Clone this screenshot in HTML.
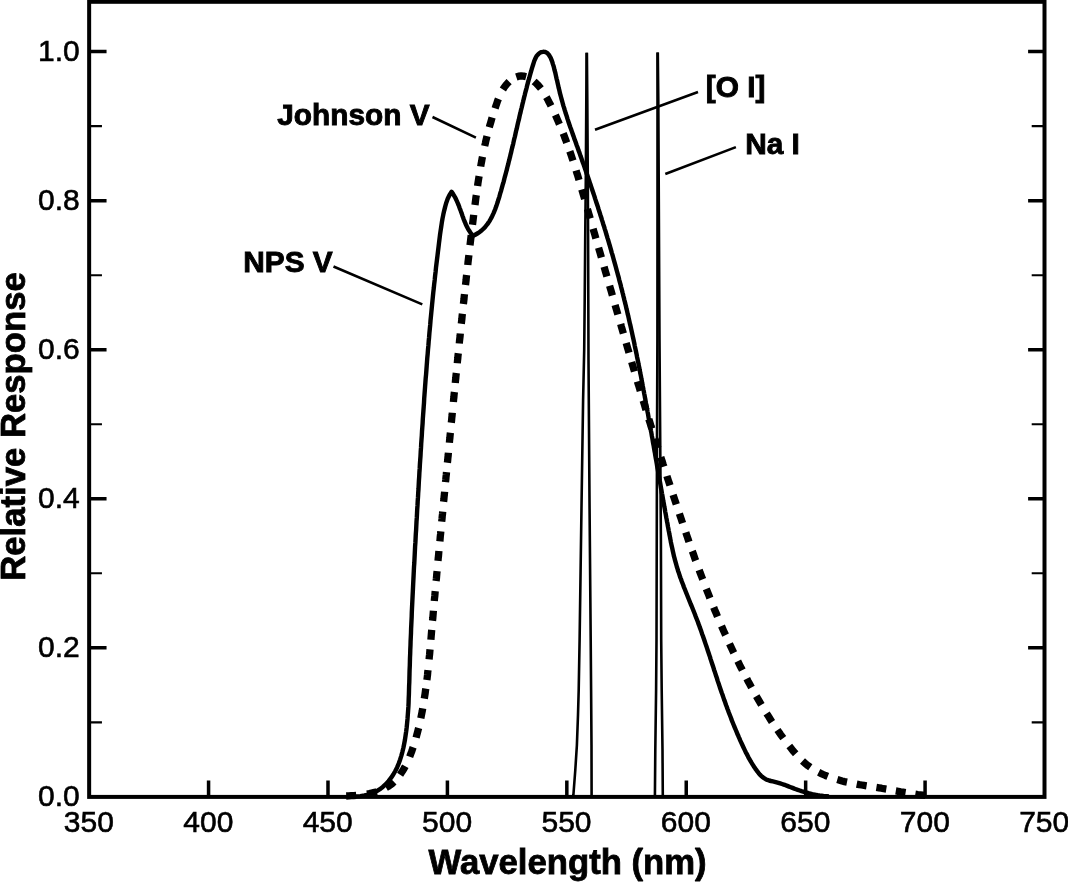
<!DOCTYPE html>
<html lang="en">
<head>
<meta charset="utf-8">
<title>Relative Response vs Wavelength</title>
<style>
html,body{margin:0;padding:0;background:#fff;}
body{width:1068px;height:882px;overflow:hidden;}
svg{display:block;}
</style>
</head>
<body>
<svg width="1068" height="882" viewBox="0 0 1068 882">
<rect width="1068" height="882" fill="#fff"/>
<g fill="none" stroke="#000" stroke-linejoin="round">
<path d="M346.2 796.0L348.7 795.9L351.2 795.7L353.7 795.6L356.2 795.4M366.9 794.0L369.4 793.6L371.8 793.0L374.3 792.4L376.7 791.7M386.0 787.7L388.2 786.4L390.2 785.0L392.2 783.5L394.0 781.8M400.1 774.7L401.5 772.6L402.9 770.5L404.1 768.4L405.3 766.2M409.7 756.7L410.6 754.3L411.5 752.0L412.3 749.6L413.1 747.3M416.1 737.7L416.7 735.3L417.4 732.8L418.0 730.4L418.6 728.0M420.8 718.2L421.3 715.7L421.8 713.3L422.3 710.8L422.7 708.4M424.3 698.6L424.7 696.1L425.1 693.7L425.4 691.2L425.8 688.7M426.9 680.0L427.2 677.6L427.5 675.1L427.7 672.6L428.0 670.1M429.1 659.4L429.3 656.9L429.6 654.4L429.8 651.9L430.0 649.4M430.9 639.8L431.1 637.3L431.3 634.8L431.5 632.4L431.7 629.9M432.5 620.8L432.8 618.3L433.0 615.8L433.2 613.3L433.4 610.8M434.3 601.0L434.5 598.5L434.8 596.1L435.0 593.6L435.2 591.1M436.1 581.0L436.4 578.6L436.6 576.1L436.8 573.6L437.1 571.1M438.0 560.9L438.2 558.5L438.5 556.0L438.7 553.5L438.9 551.0M439.9 541.4L440.1 538.9L440.3 536.4L440.6 533.9L440.8 531.4M441.7 521.6L442.0 519.1L442.2 516.6L442.5 514.1L442.7 511.6M443.6 501.7L443.9 499.2L444.1 496.7L444.4 494.2L444.6 491.7M445.5 482.1L445.8 479.6L446.0 477.1L446.3 474.6L446.5 472.1M447.4 462.7L447.7 460.2L447.9 457.7L448.2 455.2L448.4 452.7M449.4 442.7L449.6 440.2L449.9 437.7L450.1 435.2L450.4 432.7M451.3 422.8L451.6 420.3L451.8 417.8L452.1 415.3L452.3 412.8M453.4 402.0L453.6 399.5L453.9 397.0L454.1 394.5L454.4 392.0M455.3 383.0L455.5 380.5L455.8 378.0L456.0 375.5L456.3 373.0M457.3 363.2L457.5 360.7L457.8 358.2L458.0 355.7L458.3 353.2M459.3 343.5L459.5 341.0L459.8 338.5L460.1 336.0L460.3 333.5M461.3 323.8L461.6 321.3L461.9 318.8L462.1 316.3L462.4 313.8M463.4 304.0L463.7 301.5L464.0 299.0L464.2 296.5L464.5 294.1M465.5 285.0L465.8 282.5L466.1 280.0L466.3 277.5L466.6 275.0M467.8 265.0L468.0 262.5L468.3 260.0L468.6 257.5L468.9 255.1M470.0 245.3L470.3 242.8L470.6 240.3L470.9 237.8L471.2 235.3M472.5 224.8L472.8 222.3L473.1 219.9L473.4 217.4L473.7 214.9M475.0 205.0L475.3 202.5L475.6 200.1L475.9 197.6L476.3 195.1M477.6 186.0L477.9 183.5L478.3 181.0L478.7 178.5L479.1 176.1M480.7 166.5L481.1 164.0L481.6 161.6L482.0 159.1L482.5 156.7M484.7 146.0L485.3 143.5L485.8 141.1L486.4 138.7L487.0 136.2M489.3 127.2L490.0 124.8L490.7 122.4L491.4 120.0L492.1 117.6M495.1 108.3L495.9 105.9L496.7 103.6L497.5 101.2L498.4 98.9M502.9 89.5L504.2 87.4L505.7 85.4L507.3 83.5L509.1 81.7M516.3 77.0L518.7 76.2L521.2 75.9L523.7 76.1L526.1 76.7M534.1 81.4L535.9 83.0L537.7 84.8L539.4 86.7L540.9 88.6M546.4 97.1L547.6 99.2L548.7 101.5L549.9 103.7L551.0 105.9M555.4 115.1L556.4 117.3L557.4 119.6L558.4 121.9L559.4 124.2M563.2 133.4L564.1 135.7L565.0 138.1L565.9 140.4L566.7 142.7M569.8 151.2L570.6 153.5L571.4 155.9L572.2 158.3L573.0 160.6M576.1 170.4L576.8 172.8L577.6 175.2L578.3 177.5L579.0 179.9M581.8 189.4L582.5 191.8L583.2 194.2L583.9 196.6L584.6 199.0M587.4 208.9L588.1 211.3L588.8 213.7L589.5 216.1L590.2 218.5M593.1 228.8L593.8 231.2L594.5 233.6L595.2 236.0L595.9 238.4M598.6 247.8L599.3 250.2L600.0 252.6L600.7 255.0L601.4 257.4M604.1 266.8L604.8 269.2L605.5 271.7L606.2 274.1L606.9 276.5M609.6 285.8L610.3 288.2L611.0 290.6L611.7 293.0L612.4 295.4M615.1 305.0L615.8 307.4L616.5 309.8L617.2 312.2L617.9 314.6M620.7 324.0L621.3 326.4L622.0 328.8L622.7 331.2L623.4 333.6M626.2 343.1L626.9 345.5L627.6 347.9L628.3 350.3L629.0 352.7M631.7 362.0L632.4 364.4L633.1 366.8L633.8 369.2L634.5 371.6M637.4 381.4L638.1 383.8L638.9 386.2L639.6 388.6L640.3 391.0M643.1 400.5L643.9 402.9L644.6 405.3L645.3 407.7L646.0 410.0M648.8 419.1L649.6 421.5L650.3 423.8L651.0 426.2L651.8 428.6M654.9 438.6L655.7 440.9L656.4 443.3L657.2 445.7L657.9 448.1M660.8 457.2L661.6 459.6L662.4 462.0L663.1 464.3L663.9 466.7M666.9 475.9L667.6 478.3L668.4 480.6L669.2 483.0L670.0 485.4M673.1 494.9L673.9 497.2L674.7 499.6L675.5 502.0L676.3 504.4M679.4 513.7L680.2 516.1L681.0 518.4L681.8 520.8L682.6 523.2M685.8 532.4L686.6 534.8L687.4 537.1L688.2 539.5L689.0 541.9M692.3 551.2L693.2 553.5L694.0 555.9L694.8 558.2L695.7 560.6M699.2 570.0L700.0 572.4L700.9 574.7L701.8 577.0L702.7 579.4M706.3 588.8L707.2 591.1L708.1 593.4L709.0 595.7L709.9 598.1M713.7 607.4L714.6 609.7L715.6 612.0L716.6 614.3L717.5 616.6M721.5 626.0L722.5 628.3L723.5 630.6L724.5 632.8L725.6 635.1M729.5 643.8L730.6 646.1L731.6 648.3L732.7 650.6L733.8 652.8M737.8 661.2L738.9 663.4L740.0 665.7L741.2 667.9L742.3 670.1M746.8 678.7L747.9 680.9L749.1 683.1L750.3 685.3L751.5 687.5M756.3 696.1L757.6 698.3L758.8 700.4L760.1 702.6L761.4 704.8M766.6 713.4L768.0 715.5L769.3 717.7L770.6 719.8L772.0 721.9M777.5 730.0L778.9 732.0L780.3 734.1L781.8 736.1L783.3 738.1M789.3 746.0L790.9 748.0L792.4 749.9L794.0 751.9L795.7 753.8M802.5 761.0L804.3 762.7L806.3 764.3L808.2 765.8L810.3 767.3M818.7 772.3L820.9 773.4L823.2 774.5L825.5 775.5L827.8 776.4M837.3 779.6L839.7 780.3L842.1 781.0L844.5 781.6L847.0 782.1M856.7 784.1L859.2 784.6L861.6 785.0L864.1 785.4L866.6 785.8M876.4 787.4L878.9 787.8L881.4 788.2L883.8 788.7L886.3 789.1M895.8 790.9L898.2 791.3L900.7 791.8L903.1 792.2L905.6 792.6M915.3 794.2L917.8 794.6L920.3 794.9L922.8 795.2L925.3 795.5" stroke-width="7.3"/>
<path d="M352.0 796.6L356.1 796.4L360.3 796.1L364.4 795.5L368.5 794.6L372.3 793.3L376.0 791.6L379.5 789.4L382.8 786.9L385.8 784.1L388.5 781.1L391.0 777.9L393.3 774.5L395.3 771.0L397.1 767.4L398.7 763.6L400.1 759.7L401.3 755.8L402.4 751.8L403.4 747.7L404.2 743.7L405.0 739.5L405.6 735.4L406.2 731.3L406.7 727.2L407.1 723.1L407.5 719.0L407.8 714.9L408.1 710.8L408.4 706.7L408.6 702.6L408.7 698.5L408.9 694.4L409.0 690.3L409.1 686.2L409.3 682.1L409.4 678.0L409.5 673.9L409.6 669.8L409.8 665.7L409.9 661.6L410.0 657.5L410.2 653.4L410.3 649.3L410.5 645.2L410.6 641.1L410.8 637.0L411.0 632.8L411.1 628.7L411.3 624.6L411.5 620.5L411.7 616.4L411.8 612.3L412.0 608.2L412.2 604.1L412.4 600.0L412.6 595.9L412.8 591.8L413.0 587.6L413.2 583.5L413.4 579.4L413.6 575.3L413.8 571.2L414.0 567.1L414.3 563.0L414.5 558.9L414.7 554.8L414.9 550.6L415.1 546.5L415.4 542.4L415.6 538.3L415.8 534.2L416.1 530.1L416.3 526.0L416.5 521.9L416.8 517.7L417.0 513.6L417.2 509.5L417.5 505.4L417.7 501.3L418.0 497.2L418.2 493.1L418.5 489.0L418.7 484.9L418.9 480.8L419.2 476.6L419.4 472.5L419.7 468.4L419.9 464.3L420.2 460.2L420.5 456.1L420.7 452.0L421.0 447.9L421.2 443.8L421.5 439.7L421.8 435.6L422.0 431.5L422.3 427.4L422.6 423.3L422.8 419.2L423.1 415.1L423.4 411.0L423.7 406.9L424.0 402.8L424.2 398.7L424.5 394.6L424.8 390.5L425.1 386.4L425.4 382.3L425.7 378.2L426.1 374.1L426.4 370.0L426.7 365.9L427.0 361.8L427.3 357.7L427.7 353.6L428.0 349.5L428.4 345.4L428.7 341.3L429.1 337.2L429.4 333.1L429.8 329.0L430.2 324.9L430.5 320.8L430.9 316.7L431.3 312.6L431.7 308.5L432.1 304.4L432.5 300.4L432.9 296.3L433.3 292.2L433.8 288.1L434.2 284.0L434.7 279.9L435.1 275.8L435.6 271.7L436.0 267.6L436.5 263.5L437.0 259.4L437.5 255.4L438.0 251.3L438.5 247.2L439.0 243.1L439.5 239.0L440.0 234.9L440.6 230.8L441.2 226.8L441.8 222.7L442.5 218.6L443.3 214.6L444.2 210.6L445.2 206.6L446.3 202.7L447.7 198.8L449.4 195.2L451.6 191.8L452.3 192.8L453.0 193.8L453.6 194.8L454.2 195.8L454.8 196.9L455.4 197.9L455.9 199.0L456.4 200.1L456.9 201.2L457.4 202.3L457.9 203.4L458.3 204.5L458.8 205.6L459.2 206.7L459.6 207.9L460.0 209.0L460.5 210.1L460.9 211.3L461.3 212.4L461.7 213.6L462.1 214.7L462.5 215.9L462.9 217.0L463.3 218.1L463.7 219.3L464.2 220.4L464.6 221.5L465.1 222.6L465.5 223.7L466.0 224.8L466.5 225.9L467.1 227.0L467.6 228.0L468.2 229.1L468.8 230.1L469.4 231.1L470.1 232.1L470.7 233.1L471.5 234.0L472.2 235.0L473.0 235.9L474.8 235.0L476.5 234.0L478.2 233.0L479.7 231.9L481.2 230.8L482.6 229.5L483.9 228.3L485.2 226.9L486.3 225.5L487.4 224.1L488.5 222.6L489.5 221.1L490.4 219.5L491.3 217.9L492.1 216.3L492.9 214.6L493.7 212.9L494.4 211.2L495.1 209.5L495.7 207.7L496.4 205.9L497.0 204.1L497.6 202.3L498.1 200.5L498.7 198.7L499.3 196.8L499.8 195.0L500.3 193.2L500.9 191.3L501.4 189.5L501.9 187.7L502.4 185.9L502.9 184.0L503.5 182.2L504.0 180.4L504.4 178.5L504.9 176.7L505.4 174.9L505.9 173.0L506.4 171.2L506.9 169.4L507.3 167.5L507.8 165.7L508.3 163.9L508.7 162.0L509.2 160.2L509.6 158.4L510.1 156.6L510.5 154.7L511.0 152.9L511.4 151.1L511.8 149.2L512.3 147.4L512.7 145.6L513.2 143.8L513.6 141.9L514.0 140.1L514.4 138.3L514.9 136.5L515.3 134.7L515.7 132.8L516.1 131.0L516.6 129.2L517.0 127.4L517.4 125.6L517.8 123.8L518.2 122.0L518.7 120.2L519.1 118.4L519.5 116.5L519.9 114.7L520.4 112.9L520.8 111.1L521.2 109.3L521.7 107.5L522.1 105.7L522.5 103.9L523.0 102.1L523.4 100.3L523.9 98.4L524.3 96.6L524.8 94.8L525.2 93.0L525.7 91.1L526.2 89.3L526.7 87.5L527.1 85.6L527.6 83.8L528.1 81.9L528.6 80.1L529.2 78.2L529.7 76.3L530.2 74.5L530.7 72.6L531.3 70.7L531.8 68.8L532.4 66.9L533.0 65.0L533.6 63.1L534.2 61.2L534.9 59.5L535.7 57.8L536.5 56.2L537.6 54.9L538.7 53.7L540.0 52.8L541.5 52.1L543.2 51.8L544.9 51.9L546.4 52.5L547.8 53.6L549.0 55.0L550.1 56.8L551.0 58.6L551.7 60.4L552.4 62.3L552.9 64.1L553.5 65.9L554.0 67.7L554.4 69.6L554.9 71.4L555.4 73.2L555.8 75.1L556.2 76.9L556.6 78.8L557.1 80.6L557.5 82.4L557.9 84.3L558.3 86.1L558.7 87.9L559.2 89.8L559.6 91.6L560.0 93.4L560.5 95.2L561.0 97.0L561.5 98.9L562.0 100.7L562.5 102.5L563.0 104.3L563.5 106.1L564.1 107.9L564.6 109.7L565.2 111.5L565.7 113.3L566.3 115.0L566.9 116.8L567.4 118.6L568.0 120.4L568.6 122.2L569.2 124.0L569.8 125.7L570.4 127.5L571.1 129.3L571.7 131.1L572.3 132.8L572.9 134.6L573.6 136.4L574.2 138.2L574.8 139.9L575.5 141.7L576.1 143.5L576.7 145.3L577.4 147.0L578.0 148.8L578.6 150.6L579.3 152.3L579.9 154.1L580.5 155.9L581.2 157.7L581.8 159.4L582.4 161.2L583.0 163.0L583.7 164.8L584.3 166.5L584.9 168.3L585.5 170.1L586.1 171.9L586.7 173.7L587.4 175.4L588.0 177.2L588.6 179.0L589.2 180.8L589.8 182.6L590.4 184.3L591.0 186.1L591.6 187.9L592.2 189.7L592.8 191.5L593.4 193.3L594.0 195.1L594.6 196.8L595.1 198.6L595.7 200.4L596.3 202.2L596.9 204.0L597.5 205.8L598.1 207.6L598.6 209.4L599.2 211.2L599.8 213.0L600.3 214.7L600.9 216.5L601.5 218.3L602.0 220.1L602.6 221.9L603.1 223.7L603.7 225.5L604.3 227.3L604.8 229.1L605.4 230.9L605.9 232.7L606.4 234.5L607.0 236.3L607.5 238.1L608.1 239.9L608.6 241.7L609.1 243.5L609.7 245.3L610.2 247.1L610.7 248.9L611.2 250.7L611.7 252.6L612.3 254.4L612.8 256.2L613.3 258.0L613.8 259.8L614.3 261.6L614.8 263.4L615.3 265.2L615.8 267.0L616.3 268.8L616.8 270.7L617.3 272.5L617.8 274.3L618.3 276.1L618.8 277.9L619.2 279.7L619.7 281.6L620.2 283.4L620.7 285.2L621.1 287.0L621.6 288.8L622.1 290.7L622.5 292.5L623.0 294.3L623.4 296.1L623.9 298.0L624.3 299.8L624.8 301.6L625.2 303.4L625.7 305.3L626.1 307.1L626.5 308.9L627.0 310.7L627.4 312.6L627.8 314.4L628.3 316.2L628.7 318.1L629.1 319.9L629.5 321.7L629.9 323.6L630.4 325.4L630.8 327.2L631.2 329.1L631.6 330.9L632.0 332.7L632.4 334.6L632.8 336.4L633.2 338.3L633.6 340.1L634.0 341.9L634.4 343.8L634.7 345.6L635.1 347.5L635.5 349.3L635.9 351.1L636.3 353.0L636.7 354.8L637.0 356.7L637.4 358.5L637.8 360.4L638.2 362.2L638.5 364.1L638.9 365.9L639.3 367.7L639.6 369.6L640.0 371.4L640.3 373.3L640.7 375.1L641.1 377.0L641.4 378.8L641.8 380.7L642.1 382.5L642.5 384.4L642.8 386.2L643.2 388.1L643.5 389.9L643.9 391.8L644.2 393.6L644.6 395.5L644.9 397.3L645.3 399.2L645.6 401.0L645.9 402.9L646.3 404.7L646.6 406.6L647.0 408.4L647.3 410.3L647.6 412.1L648.0 414.0L648.3 415.8L648.6 417.7L649.0 419.5L649.3 421.4L649.6 423.2L650.0 425.1L650.3 427.0L650.6 428.8L650.9 430.7L651.3 432.5L651.6 434.4L651.9 436.2L652.3 438.1L652.6 439.9L652.9 441.8L653.2 443.6L653.6 445.5L653.9 447.3L654.2 449.2L654.5 451.0L654.9 452.9L655.2 454.8L655.5 456.6L655.8 458.5L656.2 460.3L656.5 462.2L656.8 464.0L657.1 465.9L657.4 467.7L657.8 469.6L658.1 471.4L658.4 473.3L658.7 475.1L659.1 477.0L659.4 478.8L659.7 480.7L660.1 482.5L660.4 484.4L660.7 486.2L661.0 488.1L661.4 489.9L661.7 491.8L662.0 493.6L662.4 495.5L662.7 497.3L663.0 499.2L663.3 501.0L663.7 502.9L664.0 504.7L664.3 506.6L664.7 508.4L665.0 510.3L665.3 512.1L665.7 514.0L666.0 515.8L666.3 517.7L666.7 519.5L667.0 521.4L667.4 523.2L667.7 525.1L668.0 526.9L668.4 528.8L668.7 530.6L669.1 532.5L669.4 534.3L669.8 536.2L670.1 538.0L670.5 539.9L670.8 541.7L671.2 543.6L671.6 545.4L672.0 547.3L672.4 549.1L672.8 550.9L673.2 552.8L673.6 554.6L674.0 556.4L674.5 558.2L675.0 560.1L675.5 561.9L676.0 563.7L676.5 565.5L677.0 567.3L677.6 569.1L678.1 570.9L678.7 572.6L679.3 574.4L679.9 576.2L680.5 578.0L681.2 579.7L681.8 581.5L682.5 583.3L683.2 585.0L683.8 586.8L684.5 588.5L685.2 590.3L685.9 592.0L686.6 593.8L687.3 595.5L688.0 597.3L688.7 599.0L689.4 600.8L690.1 602.5L690.8 604.3L691.6 606.0L692.3 607.8L693.0 609.5L693.7 611.3L694.4 613.0L695.1 614.8L695.7 616.5L696.4 618.3L697.1 620.0L697.8 621.8L698.4 623.6L699.1 625.3L699.7 627.1L700.4 628.9L701.0 630.6L701.6 632.4L702.2 634.2L702.9 636.0L703.5 637.7L704.1 639.5L704.7 641.3L705.3 643.1L705.9 644.9L706.5 646.6L707.1 648.4L707.7 650.2L708.3 652.0L708.9 653.8L709.5 655.6L710.1 657.3L710.6 659.1L711.2 660.9L711.8 662.7L712.4 664.5L713.0 666.3L713.6 668.1L714.1 669.9L714.7 671.6L715.3 673.4L715.9 675.2L716.5 677.0L717.1 678.8L717.6 680.6L718.2 682.4L718.8 684.1L719.4 685.9L720.0 687.7L720.6 689.5L721.2 691.3L721.8 693.0L722.5 694.8L723.1 696.6L723.7 698.4L724.3 700.2L725.0 701.9L725.6 703.7L726.2 705.5L726.9 707.2L727.5 709.0L728.2 710.8L728.8 712.5L729.5 714.3L730.2 716.0L730.9 717.8L731.5 719.6L732.2 721.3L732.9 723.0L733.6 724.8L734.3 726.5L735.1 728.3L735.8 730.0L736.5 731.7L737.2 733.5L738.0 735.2L738.7 736.9L739.5 738.7L740.2 740.4L741.0 742.1L741.8 743.8L742.6 745.5L743.4 747.2L744.2 748.9L745.0 750.6L745.8 752.3L746.7 753.9L747.6 755.6L748.4 757.3L749.3 758.9L750.3 760.6L751.2 762.2L752.2 763.8L753.2 765.4L754.2 767.0L755.3 768.6L756.4 770.1L757.5 771.7L758.7 773.2L759.9 774.6L761.2 775.9L762.6 777.2L764.1 778.2L765.7 779.2L767.3 779.9L769.1 780.5L771.0 781.0L772.9 781.4L774.7 781.8L776.6 782.3L778.4 782.8L780.2 783.4L782.0 784.0L783.8 784.6L785.6 785.2L787.3 785.9L789.1 786.6L790.8 787.2L792.5 787.9L794.3 788.6L796.0 789.2L797.8 789.9L799.6 790.5L801.4 791.1L803.2 791.6L805.0 792.2L806.8 792.7L808.6 793.2L810.4 793.6L812.2 794.1L814.1 794.5L815.9 794.8L817.8 795.2L819.6 795.5L821.5 795.7L823.4 796.0L825.2 796.2L827.1 796.3L829.0 796.4" stroke-width="4.4" stroke-linecap="butt"/>
<path d="M573.2 796.5L573.4 795.0L575.3 770.0L576.9 745.0L578.0 715.0L578.7 690.0L579.6 640.0L581.6 500.0L583.1 400.0L584.2 350.0L584.7 300.0L585.2 240.0L585.8 180.0L586.3 100.0L586.6 52.7" stroke-width="2.6"/>
<path d="M586.9 52.7L587.3 100.0L587.8 180.0L588.1 240.0L588.3 300.0L588.5 360.0L589.5 500.0L590.7 640.0L591.1 690.0L591.5 745.0L591.6 796.5" stroke-width="2.6"/>
<path d="M654.9 796.5L655.3 750.0L656.1 690.0L656.5 640.0L657.0 440.0L657.4 340.0L657.5 200.0L657.5 52.6" stroke-width="2.6"/>
<path d="M657.8 52.6L658.3 100.0L658.8 200.0L659.5 340.0L660.2 440.0L660.9 540.0L661.2 640.0L661.7 690.0L662.5 750.0L662.8 796.5" stroke-width="2.6"/>
<path d="M432.5 117.0L475.9 137.7M333.5 266.5L422.3 304.4M595.0 129.8L698.0 92.0M665.3 174.0L735.9 147.1" stroke-width="2.6"/>
</g>
<g fill="none" stroke="#000" stroke-linecap="butt">
<rect x="89.15" y="1.80" width="955.35" height="795.10" stroke-width="4.0"/>
<path d="M89.15 647.84h17.4M1044.50 647.84h-16.4M89.15 498.78h17.4M1044.50 498.78h-16.4M89.15 349.72h17.4M1044.50 349.72h-16.4M89.15 200.66h17.4M1044.50 200.66h-16.4M89.15 51.60h17.4M1044.50 51.60h-16.4M208.57 796.90v-16.4M327.99 796.90v-16.4M447.41 796.90v-16.4M566.83 796.90v-16.4M686.24 796.90v-16.4M805.66 796.90v-16.4M925.08 796.90v-16.4" stroke-width="3.5"/>
<path d="M89.15 722.37h12.8M1044.50 722.37h-12.8M89.15 573.31h12.8M1044.50 573.31h-12.8M89.15 424.25h12.8M1044.50 424.25h-12.8M89.15 275.19h12.8M1044.50 275.19h-12.8M89.15 126.13h12.8M1044.50 126.13h-12.8" stroke-width="2.1"/>
</g>
<g font-family="'Liberation Sans', Arial, Helvetica, sans-serif" fill="#000" stroke="#000" stroke-linejoin="miter" stroke-miterlimit="2">
<g font-size="30.0px" text-anchor="middle" stroke-width="0.6">
<text x="88.9" y="832.3">350</text>
<text x="208.3" y="832.3">400</text>
<text x="327.7" y="832.3">450</text>
<text x="447.1" y="832.3">500</text>
<text x="566.5" y="832.3">550</text>
<text x="685.9" y="832.3">600</text>
<text x="805.4" y="832.3">650</text>
<text x="924.8" y="832.3">700</text>
<text x="1044.2" y="832.3">750</text>
</g>
<g font-size="30.0px" text-anchor="end" stroke-width="0.6">
<text x="79.7" y="806.2">0.0</text>
<text x="79.7" y="657.1">0.2</text>
<text x="79.7" y="508.1">0.4</text>
<text x="79.7" y="359.0">0.6</text>
<text x="79.7" y="210.0">0.8</text>
<text x="79.7" y="60.9">1.0</text>
</g>
<g font-weight="bold" font-size="29.8px" stroke-width="0.9">
<text x="277.3" y="125.1">Johnson V</text>
<text x="243.3" y="272.0">NPS V</text>
<text x="705.8" y="97.3">[O I]</text>
<text x="745.2" y="154.4">Na I</text>
</g>
<g font-weight="bold" font-size="34.7px" text-anchor="middle" stroke-width="0.8">
<text x="567.6" y="874.4">Wavelength (nm)</text>
<text transform="translate(24.9 426.5) rotate(-90)">Relative Response</text>
</g>
</g>
</svg>
</body>
</html>
